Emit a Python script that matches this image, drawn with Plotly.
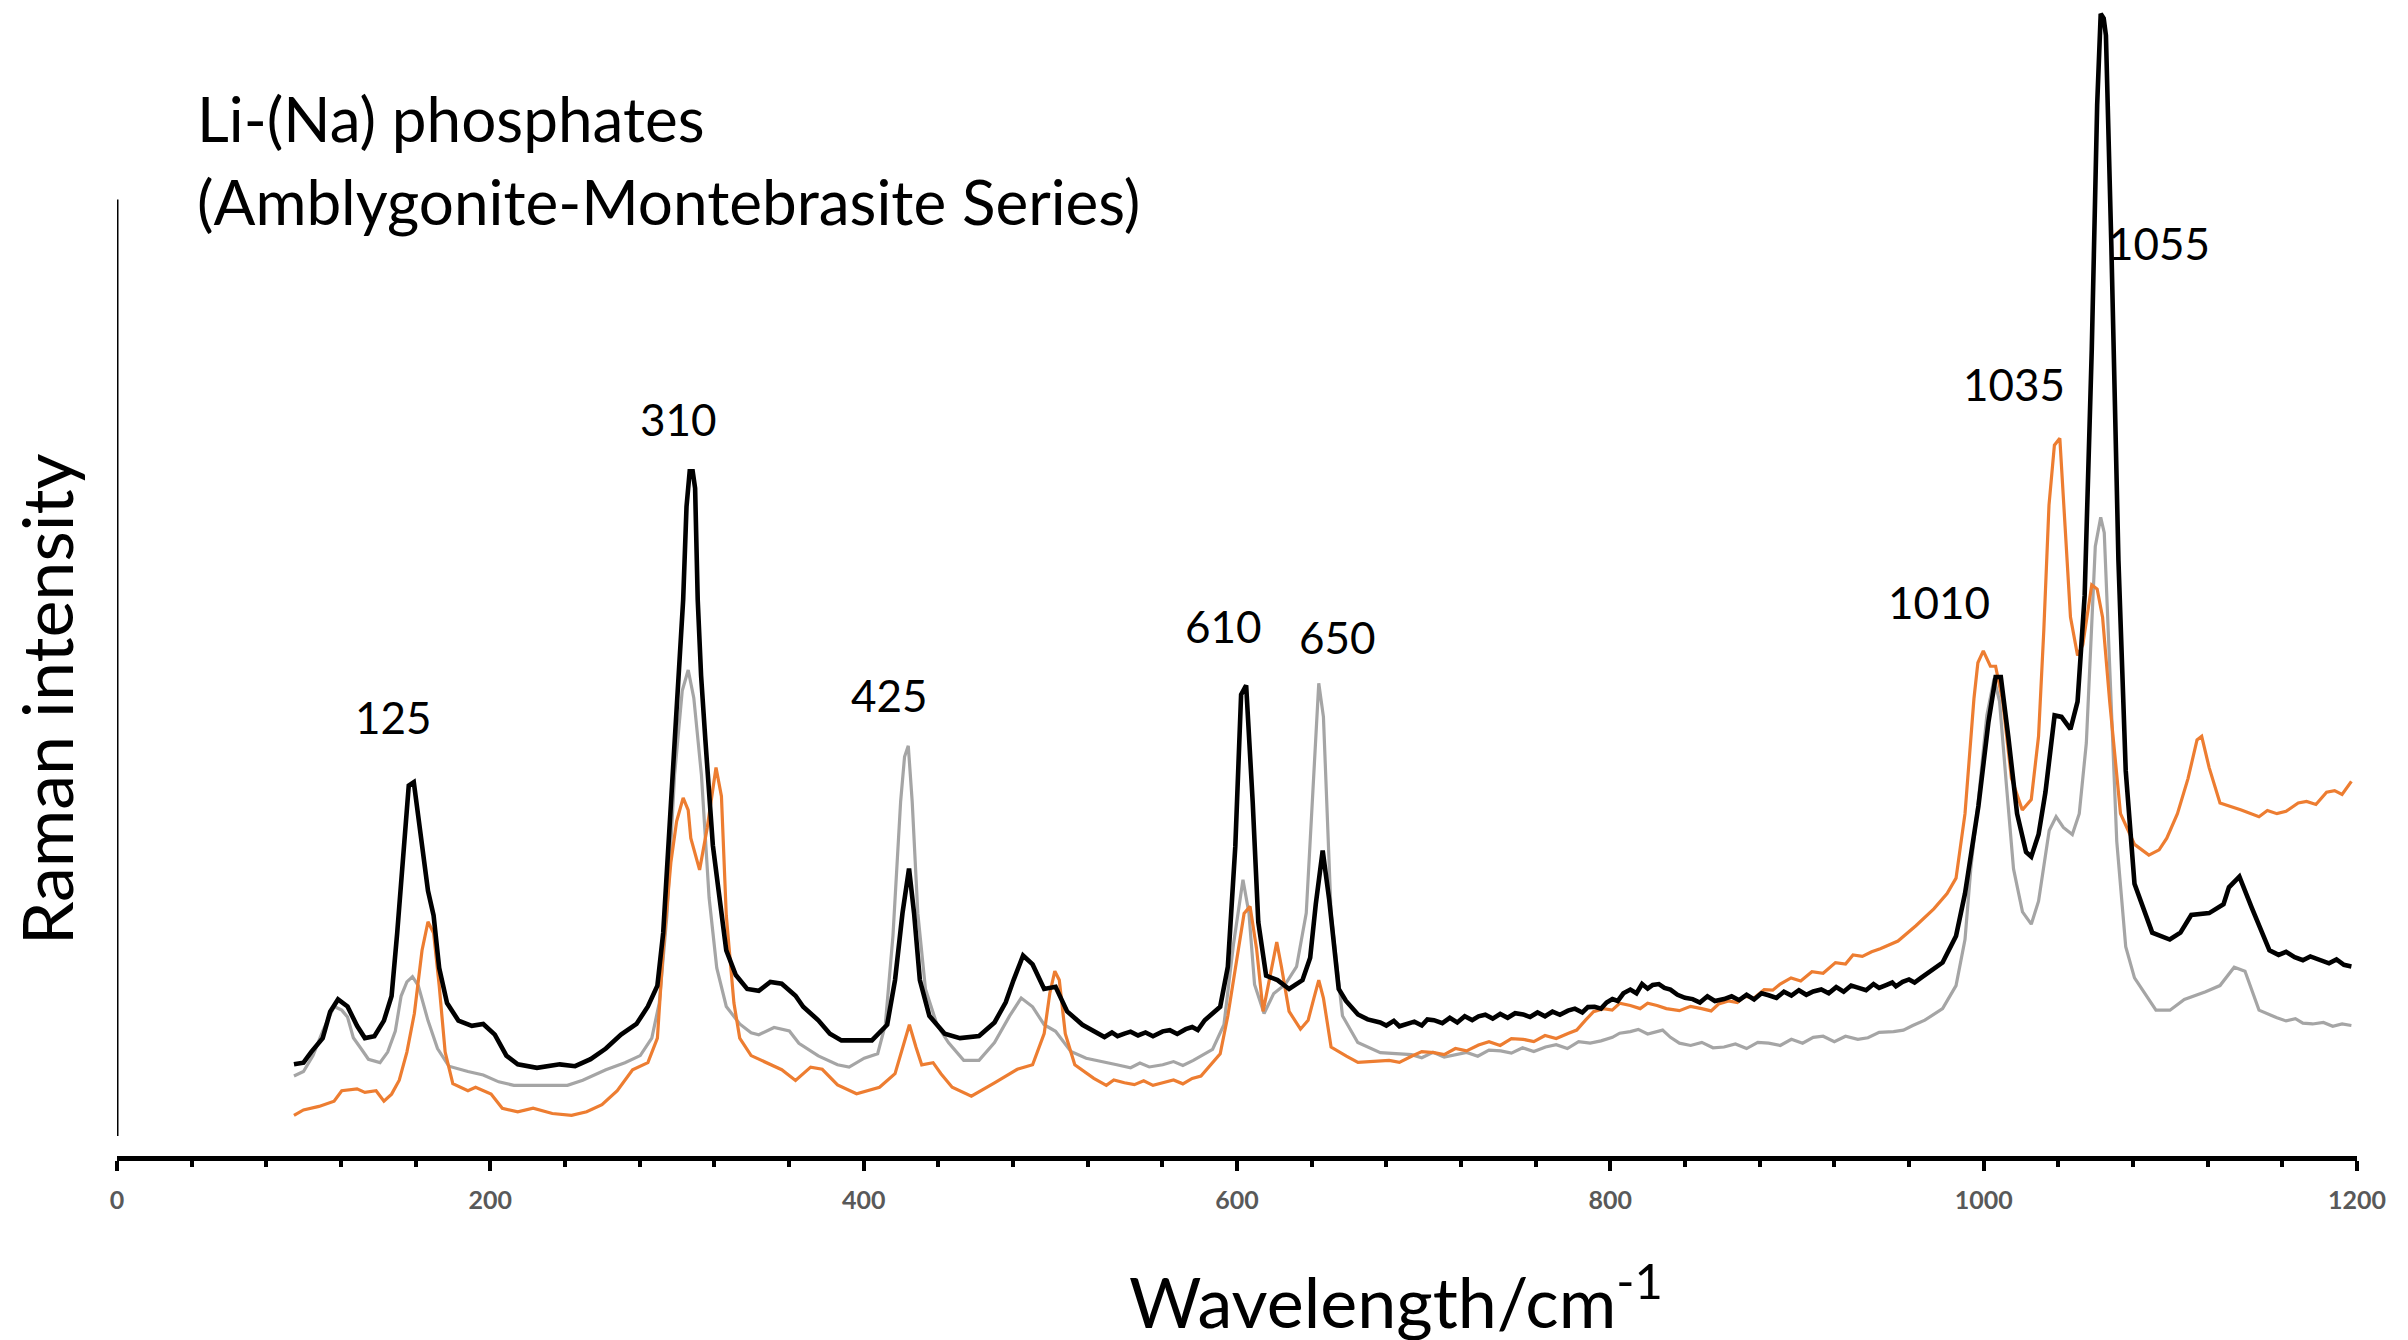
import plotly.graph_objects as go

# ---------------- data (wavenumber cm-1, Raman intensity a.u.) ----------------
black_wn = [94.8, 99.9, 104.0, 110.2, 114.2, 118.4, 123.5, 128.6, 132.8, 137.9,
            143.0, 147.1, 150.1, 153.2, 156.3, 159.0, 162.4, 166.6, 169.6, 172.6,
            176.8, 182.9, 190.1, 196.2, 202.4, 208.6, 214.7, 225.0, 237.2, 245.4,
            253.7, 261.9, 270.0, 278.3, 284.4, 289.5, 292.6, 296.7, 300.8, 303.3,
            305.1, 306.8, 308.4, 309.7, 311.1, 312.9, 315.2, 319.2, 322.3, 326.4,
            331.5, 337.6, 343.8, 350.0, 356.1, 363.5, 367.6, 375.7, 381.9, 388.1,
            396.2, 404.4, 412.6, 416.8, 420.8, 424.3, 427.0, 430.1, 435.2, 443.4,
            451.6, 461.8, 470.1, 476.1, 480.3, 485.4, 490.5, 496.7, 502.8, 509.0,
            517.2, 525.3, 539.7, 560.2, 572.5, 582.7, 591.0, 595.1, 599.1, 602.2,
            604.9, 608.4, 611.4, 615.6, 621.7, 627.9, 635.1, 639.2, 642.2, 645.9,
            649.4, 654.5, 658.4, 664.8, 676.7, 691.1, 705.5, 729.4, 753.3, 777.3,
            791.6, 801.1, 810.7, 822.7, 832.2, 844.1, 860.9, 884.8, 908.7, 932.6,
            947.4, 956.6, 966.4, 978.0, 985.2, 990.0, 997.2, 1002.6, 1006.4, 1009.2,
            1013.2, 1017.9, 1022.7, 1025.5, 1029.4, 1033.1, 1038.0, 1041.7, 1046.5, 1050.3,
            1054.1, 1057.9, 1060.8, 1062.7, 1064.3, 1065.5, 1068.4, 1072.2, 1076.1, 1080.8,
            1090.3, 1099.7, 1105.4, 1111.2, 1120.8, 1128.5, 1131.4, 1137.0, 1143.7, 1153.1,
            1166.6, 1180.0, 1197.0]
black_int = [59.7, 60.8, 67.7, 76.8, 94, 102, 97.4, 84.8, 76.8, 78,
             88.2, 104.2, 145.3, 197.9, 241.3, 243.5, 213.8, 172.7, 156.7, 122.5,
             99.6, 88.2, 84.8, 86, 79.1, 65.4, 59.7, 57.4, 59.7, 58.5,
             63.1, 70, 79.1, 86, 97.4, 111, 145.3, 225.3, 316.6, 362.3,
             423, 446, 446, 435, 362.3, 313, 271, 202.4, 172.7, 133.9,
             117.9, 108.8, 107.6, 113.4, 112.2, 104.4, 97.2, 88.4, 79.7, 75.3,
             75.3, 75.3, 85.5, 114.6, 158.2, 187.3, 158.2, 114.6, 91.3, 79.7,
             76.8, 78.2, 87, 100.1, 114.6, 130.6, 124.8, 108.8, 110.2, 94.2,
             85.5, 79.7, 79.7, 81.2, 82.6, 88.4, 97.2, 123.3, 201.8, 300.6,
             306.5, 230.9, 152.4, 117.5, 114.6, 108.8, 114.6, 129.1, 164, 198.9,
             166.9, 108.8, 101, 92.2, 87, 86, 88.5, 91, 92.2, 94.7,
             97.2, 102.2, 108.4, 111.4, 108.4, 102.2, 102.2, 104.7, 107.2, 109.7,
             111.2, 113.4, 116, 126, 143.3, 171, 228, 283, 312, 312,
             273, 223, 198, 195, 209.4, 237, 287, 286, 278, 296,
             365, 525, 684.5, 744, 741, 730, 593, 388, 251, 177.4,
             145.5, 141, 145.5, 157, 158.2, 164, 175, 182, 161.5, 134,
             129.5, 128, 123.5]
# fine detector noise read in the flat stretches of the black trace
black_noise_wn = [529, 533, 536, 543, 547, 551, 555, 564, 568, 576, 579,
                  670, 680, 684, 687, 695, 699, 702, 710, 714, 718, 722, 726, 733, 737,
                  741, 745, 749, 757, 761, 765, 769, 773, 781, 785, 788, 795, 798, 804,
                  807, 814, 817, 820, 826, 829, 836, 840, 848, 852, 856, 865, 869, 873,
                  877, 881, 889, 893, 897, 901, 905, 913, 917, 921, 925, 929, 937, 941,
                  944, 951, 953, 960, 963,
                  1158, 1162, 1171, 1175, 1185, 1189, 1193]
black_noise_int = [77.5, 80.5, 78, 81, 78.5, 80.5, 78, 82, 79.5, 84, 82,
                   89, 85, 88, 84.5, 87.5, 85, 89, 86.5, 90, 87, 91, 88.5, 92, 89.5,
                   92.5, 90, 93, 90.5, 93.5, 91, 94, 92, 96, 93.5, 97, 96, 100, 101,
                   106, 106, 112, 109, 112, 109.5, 105, 103, 100, 104, 101, 104, 101.5, 105,
                   102, 106, 103, 107, 104.5, 108, 105, 108.5, 106, 110, 107, 111, 108, 112,
                   109.5, 113, 110.5, 115, 113,
                   131, 133, 127.5, 130, 125.5, 128, 124.5]

gray_wn = [94.8, 99.9, 105.0, 110.2, 116.3, 120.4, 123.5, 126.6, 130.7, 134.7,
           140.9, 145.0, 149.1, 152.2, 155.3, 158.3, 161.4, 166.6, 171.7, 177.8,
           188.0, 196.2, 204.5, 212.6, 229.1, 241.3, 249.5, 261.9, 272.1, 280.3,
           286.5, 290.5, 294.6, 298.7, 302.8, 306.0, 309.0, 313.1, 317.2, 321.3,
           326.4, 333.6, 339.7, 343.8, 352.0, 360.2, 365.3, 375.7, 386.0, 392.2,
           400.3, 407.5, 411.6, 415.7, 419.8, 421.9, 423.9, 426.0, 429.0, 433.1,
           439.3, 445.4, 453.6, 461.8, 470.1, 478.2, 484.4, 490.5, 496.7, 502.8,
           511.0, 519.2, 535.6, 560.2, 576.6, 586.9, 593.0, 598.1, 603.2, 606.4,
           609.4, 614.5, 619.7, 625.8, 631.9, 637.1, 641.2, 643.8, 646.3, 650.4,
           656.5, 664.7, 676.8, 693.5, 717.4, 741.3, 765.3, 789.2, 801.1, 810.7,
           825.0, 832.2, 837.0, 860.9, 884.8, 908.7, 932.6, 951.7, 968.5, 978.0,
           985.2, 990.0, 993.1, 997.1, 1001.7, 1005.6, 1008.5, 1012.2, 1016.0, 1020.8,
           1025.5, 1029.4, 1035.1, 1038.8, 1042.7, 1047.5, 1051.2, 1055.0, 1059.8, 1062.7,
           1064.6, 1067.5, 1071.3, 1076.1, 1080.8, 1092.3, 1099.8, 1107.5, 1118.9, 1126.6,
           1134.2, 1140.0, 1147.5, 1157.1, 1176.2, 1197.0]
gray_int = [52.1, 55, 65.4, 81.4, 97.4, 95, 90.5, 77, 70, 63,
            60.8, 67.7, 81.4, 104.2, 113.4, 116.8, 111, 88.2, 70, 58.5,
            55, 52.8, 48.3, 46, 46, 46, 49.4, 56.2, 60.8, 65.4,
            76.8, 99.6, 156.7, 248.1, 303, 316.6, 298.4, 248.1, 168.2, 122.5,
            97.4, 86, 80.2, 79, 83.7, 81.4, 73.4, 65.2, 59.4, 57.9,
            63.7, 66.6, 85.5, 143.6, 230.9, 260, 267.2, 230.9, 158.2, 108.8,
            85.5, 73.9, 62.3, 62.3, 73.9, 91.3, 102.9, 97.2, 85.5, 81.2,
            68.1, 63.7, 59.4, 59.4, 62.3, 69.5, 85.5, 137.8, 180, 158.2,
            111.7, 92.8, 105.9, 111.7, 123.3, 158.2, 251.2, 307.9, 286.1, 158.2,
            91.3, 73.9, 67.3, 66, 66, 68.5, 71, 73.5, 77.3, 81,
            81, 77.3, 73.5, 71, 73.5, 77.3, 76, 81, 88.5, 96,
            111, 141, 187, 231, 287, 311, 296.2, 241.4, 187, 159,
            151, 166, 212, 221, 214, 209.4, 223, 269, 397, 416,
            406, 319, 205, 136.3, 116, 95, 95, 102, 107, 111,
            123, 120.3, 95, 90, 86, 85]
gray_noise_wn = [543, 548, 553, 566, 571,
                 699, 705, 711, 723, 729, 735, 747, 753, 759, 771, 777, 783, 795, 805,
                 815, 820, 828, 843, 849, 855, 867, 873, 879, 891, 897, 903, 914, 920,
                 926, 938, 944, 957, 962,
                 1162, 1167, 1171, 1182, 1187, 1192]
gray_noise_int = [57.5, 60.5, 58, 61.5, 59,
                  64, 67.5, 64.5, 67.5, 65, 69, 67, 70.5, 68, 72.5, 70, 74.5, 75, 80,
                  82.5, 79.5, 82, 72, 74, 70.5, 73, 70, 74, 72, 76, 73.5, 78, 74.5,
                  78, 77, 80.5, 82, 85,
                  88, 89.5, 86.5, 87, 84.5, 86]

orange_wn = [94.8, 99.9, 108.2, 116.3, 120.4, 128.6, 132.8, 138.8, 143.0, 147.1,
             151.2, 155.3, 159.3, 163.4, 166.6, 169.6, 172.6, 175.8, 179.9, 188.0,
             192.1, 196.2, 200.4, 206.4, 214.7, 222.9, 233.2, 243.5, 251.6, 259.8,
             268.0, 276.2, 284.4, 289.5, 292.6, 296.7, 299.8, 303.3, 306.0, 307.4,
             312.1, 316.2, 320.9, 323.8, 326.4, 330.5, 333.6, 339.7, 347.9, 356.1,
             363.5, 371.6, 377.8, 386.0, 396.2, 408.5, 416.8, 420.8, 424.5, 428.0,
             431.1, 437.2, 441.4, 447.4, 457.7, 470.1, 482.3, 490.5, 496.7, 499.7,
             502.4, 504.8, 508.0, 513.1, 523.3, 539.7, 560.2, 580.7, 591.0, 595.1,
             600.2, 603.8, 607.0, 610.5, 614.0, 618.6, 621.3, 623.8, 627.9, 634.0,
             638.1, 641.2, 643.8, 646.3, 650.4, 658.6, 664.8, 681.5, 693.5, 705.5,
             729.4, 753.3, 777.3, 786.7, 796.3, 810.7, 825.0, 837.0, 848.9, 863.3,
             882.4, 896.8, 920.6, 935.0, 944.6, 954.1, 963.7, 973.3, 980.4, 985.2,
             990.0, 994.8, 996.9, 999.8, 1003.6, 1006.4, 1010.2, 1014.9, 1020.7, 1025.5,
             1029.4, 1032.2, 1035.0, 1037.9, 1040.8, 1043.6, 1046.5, 1050.3, 1053.1, 1057.9,
             1060.8, 1063.7, 1067.5, 1073.3, 1080.8, 1088.5, 1094.0, 1098.1, 1103.8, 1109.5,
             1114.3, 1116.8, 1120.8, 1126.6, 1138.0, 1147.5, 1157.1, 1168.5, 1183.7, 1197.0]
orange_int = [26.5, 30, 32.3, 35.7, 42.5, 43.7, 41.4, 42.5, 35.7, 40.3,
              49.4, 67.7, 92.8, 133.9, 152.6, 145.3, 111, 67.7, 47.1, 42.5,
              44.8, 42.5, 40.3, 31.1, 28.8, 31.1, 27.7, 26.5, 28.8, 33.4,
              42.5, 56.2, 60.8, 76.8, 133.9, 191, 218, 233.3, 225.3, 207,
              186.4, 213.8, 253.1, 234.4, 156.7, 99.6, 76.8, 65.4, 60.8, 56.2,
              49.2, 57.9, 56.5, 46.3, 40.5, 44.8, 53.6, 71, 85.5, 71,
              59.4, 60.8, 53.6, 44.8, 39, 47.7, 56.5, 59.4, 79.7, 105.9,
              120.4, 114.6, 79.7, 59.4, 50.6, 47.7, 47.7, 52.1, 66.6, 91.3,
              132, 158, 162.6, 134.9, 94.2, 123.3, 139.3, 123.3, 94.2, 82.6,
              88.4, 102.9, 114.6, 102.9, 71, 65, 61, 62.3, 65, 67.3,
              72.3, 76, 79.8, 88.5, 96, 98, 98, 94.7, 96, 101,
              108.4, 116, 126, 130, 135, 140, 150, 161, 171, 181,
              223, 298, 321.3, 329, 319, 319, 296.2, 246, 225.4, 232.2,
              273.4, 342, 424, 463, 467.5, 410.4, 351, 326, 333, 372,
              369.3, 351, 296.2, 223, 203, 196, 199.4, 207, 223, 246,
              271, 273.4, 253, 230, 225.4, 221, 223, 230, 237, 244]
orange_noise_wn = [530, 534, 545, 550, 555, 566, 571, 576,
                   687, 699, 711, 717, 723, 735, 741, 747, 759, 765, 771, 782, 791, 801,
                   805, 816, 820, 830, 843, 854, 858, 868, 872, 877, 887, 891, 902, 908,
                   914, 926, 930, 940,
                   1152, 1162, 1173, 1178, 1188, 1192]
orange_noise_int = [46, 49.5, 46.5, 49, 46, 49.5, 47, 50.5,
                    61, 68, 66, 70, 68.5, 74.5, 72, 76.5, 74.5, 78.5, 76.5, 82, 94, 95,
                    99.5, 96, 99.5, 96, 97.5, 94.5, 99, 100, 104, 103, 108, 112, 114, 120,
                    119, 125, 131, 133,
                    225, 224.5, 231, 229, 238, 235.5]

peak_labels = ["125", "310", "425", "610", "650", "1010", "1035", "1055"]
peak_label_x = [148, 301, 414, 593, 654, 976, 1016, 1094]
peak_label_y = [286, 480, 300, 345, 338, 361, 503, 595]

title_lines = ["Li-(Na) phosphates", "(Amblygonite-Montebrasite Series)"]
x_title = "Wavelength/cm<sup>-1</sup>"
y_title = "Raman intensity"

FONT = "Lato, 'Open Sans', sans-serif"


def merged(wn, inten, nwn, nint):
    assert len(wn) == len(inten) and len(nwn) == len(nint)
    pts = sorted(zip(list(wn) + list(nwn), list(inten) + list(nint)))
    return [p[0] for p in pts], [p[1] for p in pts]


fig = go.Figure()
series = [(gray_wn, gray_int, gray_noise_wn, gray_noise_int, "#A5A5A5", 3.2),
          (orange_wn, orange_int, orange_noise_wn, orange_noise_int, "#ED7D31", 3.2),
          (black_wn, black_int, black_noise_wn, black_noise_int, "#000000", 4.6)]
for wn, inten, nwn, nint, col, w in series:
    xs, ys = merged(wn, inten, nwn, nint)
    fig.add_trace(go.Scatter(x=xs, y=ys, mode="lines",
                             line=dict(color=col, width=w), showlegend=False,
                             hoverinfo="skip"))

annotations = []
for t, xx, yy in zip(peak_labels, peak_label_x, peak_label_y):
    annotations.append(dict(x=xx, y=yy, xref="x", yref="y", text=t, showarrow=False,
                            font=dict(family=FONT, size=44, color="black"),
                            xanchor="center", yanchor="middle"))

annotations.append(dict(x=0.0348, y=0.898, xref="paper", yref="paper", text=title_lines[0],
                        showarrow=False, xanchor="left", yanchor="middle",
                        font=dict(family=FONT, size=62, color="black")))
annotations.append(dict(x=0.0348, y=0.826, xref="paper", yref="paper", text=title_lines[1],
                        showarrow=False, xanchor="left", yanchor="middle",
                        font=dict(family=FONT, size=62, color="black")))
annotations.append(dict(x=0.571, y=-0.122, xref="paper", yref="paper", text=x_title,
                        showarrow=False, xanchor="center", yanchor="middle",
                        font=dict(family=FONT, size=70, color="black")))
annotations.append(dict(x=-0.0317, y=0.395, xref="paper", yref="paper", text=y_title,
                        showarrow=False, xanchor="center", yanchor="middle", textangle=-90,
                        font=dict(family=FONT, size=70, color="black")))

fig.update_layout(
    width=2408, height=1340,
    margin=dict(l=117, r=51, t=0, b=184, pad=0),
    paper_bgcolor="white", plot_bgcolor="white",
    annotations=annotations,
    shapes=[dict(type="line", xref="x", yref="y", x0=0, x1=0, y0=13, y1=623,
                 line=dict(color="black", width=3))],
    xaxis=dict(range=[0, 1200], tick0=0, dtick=200, showgrid=False, zeroline=False,
               showline=True, linecolor="black", linewidth=5,
               ticks="outside", ticklen=10, tickwidth=4, tickcolor="black",
               ticklabelstandoff=8,
               tickfont=dict(family=FONT, size=25, color="#595959", weight="bold"),
               minor=dict(dtick=40, ticks="outside", ticklen=6, tickwidth=4,
                          tickcolor="black", showgrid=False)),
    yaxis=dict(range=[0, 753], showgrid=False, zeroline=False, showline=False,
               showticklabels=False, ticks=""),
)

fig.write_html("out.html")
